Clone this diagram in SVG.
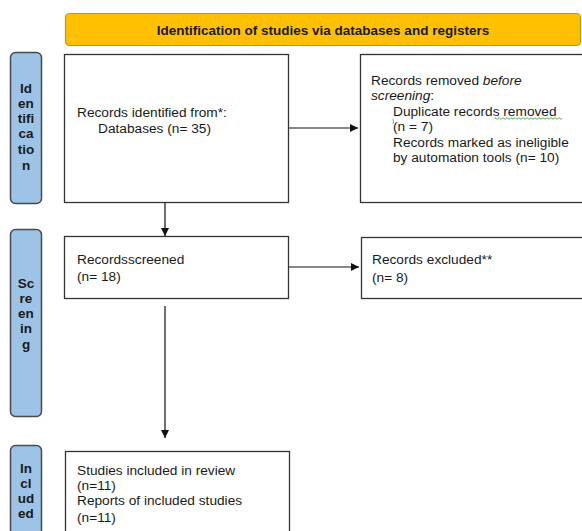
<svg xmlns="http://www.w3.org/2000/svg" width="582" height="531" viewBox="0 0 582 531">
<style>
  .t{font-family:"Liberation Sans",Arial,sans-serif;font-size:13.7px;fill:#1a1a1a}
  .b{font-family:"Liberation Sans",Arial,sans-serif;font-size:13.5px;font-weight:bold;fill:#1a1a1a;text-anchor:middle}
  .box{fill:#fff;stroke:#333;stroke-width:1.3}
  .side{fill:#9DC3E6;stroke:#4a4a4a;stroke-width:1.5}
  .conn{stroke:#111;stroke-width:1.2;fill:none}
</style>
<defs>
  <marker id="ah" viewBox="0 0 10 10" refX="10" refY="5" markerWidth="8" markerHeight="8" markerUnits="userSpaceOnUse" orient="auto">
    <path d="M0,0 L10,5 L0,10 z" fill="#111"/>
  </marker>
</defs>
<rect width="582" height="531" fill="#fff"/>

<g id="header">
  <rect x="65.5" y="13.5" width="515" height="32" rx="4" fill="#FFC000" stroke="#B8962E" stroke-width="1.2"/>
  <text class="b" x="323" y="34.5">Identification of studies via databases and registers</text>
</g>

<g id="side-identification">
  <rect class="side" x="10.5" y="52.5" width="31" height="151" rx="5"/>
  <text class="b"><tspan x="26" y="93">Id</tspan><tspan x="26" y="108">en</tspan><tspan x="26" y="123">tifi</tspan><tspan x="26" y="138">ca</tspan><tspan x="26" y="154">tio</tspan><tspan x="26" y="170">n</tspan></text>
</g>
<g id="side-screening">
  <rect class="side" x="10.5" y="229.5" width="31" height="187" rx="5"/>
  <text class="b"><tspan x="26" y="288">Sc</tspan><tspan x="26" y="303">re</tspan><tspan x="26" y="318">en</tspan><tspan x="26" y="333">in</tspan><tspan x="26" y="349">g</tspan></text>
</g>
<g id="side-included">
  <rect class="side" x="10.5" y="445.5" width="31" height="100" rx="5"/>
  <text class="b"><tspan x="26" y="473">In</tspan><tspan x="26" y="488">cl</tspan><tspan x="26" y="503">ud</tspan><tspan x="26" y="518">ed</tspan></text>
</g>

<g id="records-identified">
  <rect class="box" x="64.5" y="54.5" width="224" height="148"/>
  <text class="t"><tspan x="77" y="117">Records identified from*:</tspan><tspan x="98" y="133">Databases (n= 35)</tspan></text>
</g>

<g id="records-removed">
  <rect class="box" x="360.5" y="54.5" width="225" height="148"/>
  <text class="t"><tspan x="371" y="85">Records removed <tspan font-style="italic">before</tspan></tspan><tspan x="371" y="100" font-style="italic">screening</tspan><tspan>:</tspan><tspan x="393" y="116">Duplicate records removed</tspan><tspan x="393" y="131">(n = 7)</tspan><tspan x="393" y="147">Records marked as ineligible</tspan><tspan x="393" y="162">by automation tools (n= 10)</tspan></text>
  <path d="M494,118.5 q1,-1.5 2,0 t2,0 t2,0 t2,0 t2,0 t2,0 t2,0 t2,0 t2,0 t2,0 t2,0 t2,0 t2,0 t2,0 t2,0 t2,0 t2,0 t2,0 t2,0 t2,0 t2,0 t2,0 t2,0 t2,0 t2,0 t2,0 t2,0 t2,0 t2,0 t2,0 t2,0 t2,0 t2,0 t2,0" fill="none" stroke="#3a9a3a" stroke-width="0.8"/>
  <path d="M393,119 q1,3 0,5" fill="none" stroke="#3a9a3a" stroke-width="0.8"/>
</g>

<g id="records-screened">
  <rect class="box" x="64.5" y="236.5" width="224" height="62"/>
  <text class="t"><tspan x="77" y="264">Recordsscreened</tspan><tspan x="77" y="281">(n= 18)</tspan></text>
</g>

<g id="records-excluded">
  <rect class="box" x="361.5" y="237.5" width="224" height="61"/>
  <text class="t"><tspan x="372" y="264">Records excluded**</tspan><tspan x="372" y="282">(n= 8)</tspan></text>
</g>

<g id="studies-included">
  <rect class="box" x="65.5" y="451.5" width="224" height="100"/>
  <text class="t"><tspan x="77" y="475">Studies included in review</tspan><tspan x="77" y="490">(n=11)</tspan><tspan x="77" y="505">Reports of included studies</tspan><tspan x="77" y="522">(n=11)</tspan></text>
</g>

<g id="connectors">
  <line class="conn" x1="289" y1="128" x2="358" y2="128" marker-end="url(#ah)"/>
  <line class="conn" x1="165" y1="203" x2="165" y2="236" marker-end="url(#ah)"/>
  <line class="conn" x1="289" y1="267" x2="359" y2="267" marker-end="url(#ah)"/>
  <line class="conn" x1="165" y1="306" x2="165" y2="438" marker-end="url(#ah)"/>
</g>
</svg>
